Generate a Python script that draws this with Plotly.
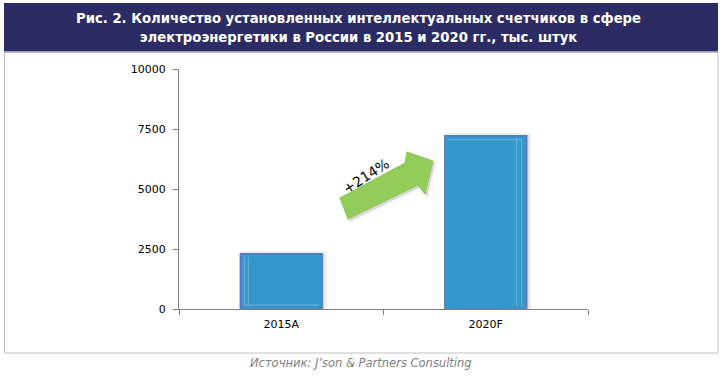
import plotly.graph_objects as go

categories = ["2015A", "2020F"]
values = [2300, 7220]
y_ticks = [0, 2500, 5000, 7500, 10000]
title_lines = ["Рис. 2. Количество установленных интеллектуальных счетчиков в сфере",
               "электроэнергетики в России в 2015 и 2020 гг., тыс. штук"]
growth_label = "+214%"
source_text = "Источник: J’son & Partners Consulting"

# plot area in pixels: x 179..588, y 69..309
L, R, T, B = 179, 588, 69, 309
W, H = 724, 381
def px(x):
    return (x - L) / (R - L)
def py(y):
    return (B - y) / (B - T)

BAR_W = 0.40
cat_px = (R - L) / 2.0          # pixels per category
val_px = 10000 / (B - T)        # data units per pixel

fig = go.Figure()
# soft shadow
fig.add_trace(go.Bar(
    x=categories, y=values, width=BAR_W, offset=-BAR_W / 2 + 2 / cat_px,
    marker=dict(color="rgba(0,0,0,0.10)", line=dict(color="rgba(0,0,0,0.07)", width=5)),
    hoverinfo="skip",
))
fig.add_trace(go.Bar(
    x=categories, y=values, width=BAR_W, offset=-BAR_W / 2,
    marker=dict(color="#3399cc", line=dict(color="#5a78c0", width=1.5)),
    hoverinfo="x+y",
))

shapes = []
# title box
shapes.append(dict(type="rect", xref="paper", yref="paper",
                   x0=px(4), x1=px(718), y0=py(52), y1=py(3),
                   fillcolor="#2b2c63", line=dict(width=0), layer="below"))
shapes.append(dict(type="line", xref="paper", yref="paper",
                   x0=px(4), x1=px(718), y0=py(52), y1=py(52),
                   line=dict(color="#a8a8c8", width=1.5)))
# chart border
shapes.append(dict(type="rect", xref="paper", yref="paper",
                   x0=px(4.5), x1=px(718), y0=py(353), y1=py(52),
                   line=dict(color="#c0c0c0", width=1), layer="below"))

# bar highlight lines (3D bevel look)
hl = dict(color="#6cb2de", width=1)
v0 = values[0]
for d in (4, 8):
    xx = 0 - BAR_W / 2 + d / cat_px
    shapes.append(dict(type="line", xref="x", yref="y", x0=xx, x1=xx,
                       y0=3 * val_px, y1=v0 - 3 * val_px, line=hl))
shapes.append(dict(type="line", xref="x", yref="y",
                   x0=0 - BAR_W / 2 + 4 / cat_px, x1=0 + BAR_W / 2 - 3 / cat_px,
                   y0=4 * val_px, y1=4 * val_px, line=hl))
v1 = values[1]
for d in (5, 10):
    xx = 1 + BAR_W / 2 - d / cat_px
    shapes.append(dict(type="line", xref="x", yref="y", x0=xx, x1=xx,
                       y0=3 * val_px, y1=v1 - 3 * val_px, line=hl))
shapes.append(dict(type="line", xref="x", yref="y",
                   x0=1 - BAR_W / 2 + 3 / cat_px, x1=1 + BAR_W / 2 - 5 / cat_px,
                   y0=v1 - 4 * val_px, y1=v1 - 4 * val_px, line=hl))

# growth arrow (shadow + arrow)
pts = [(340, 198), (405, 163), (407, 152), (433, 161), (425, 194), (418, 185), (348, 219)]
spath = "M " + " L ".join(f"{px(x + 2):.4f},{py(y + 2):.4f}" for x, y in pts) + " Z"
shapes.append(dict(type="path", xref="paper", yref="paper", path=spath,
                   fillcolor="rgba(0,0,0,0.12)", line=dict(color="rgba(0,0,0,0.06)", width=3)))
path = "M " + " L ".join(f"{px(x):.4f},{py(y):.4f}" for x, y in pts) + " Z"
shapes.append(dict(type="path", xref="paper", yref="paper", path=path,
                   fillcolor="#92cd5a", line=dict(color="#8cc555", width=1)))

annotations = [
    dict(text="<b>" + title_lines[0] + "<br>" + title_lines[1] + "</b>",
         xref="paper", yref="paper", x=px(358), y=py(27), showarrow=False,
         font=dict(family="Liberation Sans Narrow, DejaVu Sans Condensed, Arial Narrow, sans-serif",
                   size=14.7, color="white"),
         align="center", xanchor="center", yanchor="middle"),
    dict(text=growth_label, xref="paper", yref="paper", x=px(366), y=py(176),
         showarrow=False, textangle=-33,
         font=dict(family="DejaVu Sans, sans-serif", size=14, color="black"),
         xanchor="center", yanchor="middle"),
    dict(text="<i>" + source_text + "</i>", xref="paper", yref="paper",
         x=px(361), y=py(363), showarrow=False,
         font=dict(family="DejaVu Sans, sans-serif", size=11.5, color="#808080"),
         xanchor="center", yanchor="middle"),
]

fig.update_layout(
    width=W, height=H,
    margin=dict(l=L, r=W - R, t=T, b=H - B),
    paper_bgcolor="white", plot_bgcolor="white",
    showlegend=False, barmode="overlay",
    shapes=shapes, annotations=annotations,
    font=dict(family="DejaVu Sans, sans-serif", size=11, color="black"),
    xaxis=dict(type="category", range=[-0.5, 1.5], showline=True, linecolor="#808080",
               linewidth=1, ticks="outside", tickson="boundaries", ticklen=5,
               tickcolor="#808080", showgrid=False, zeroline=False,
               ticklabelstandoff=5, tickfont=dict(size=11)),
    yaxis=dict(range=[0, 10000], tickvals=y_ticks, ticktext=[str(v) for v in y_ticks],
               showline=True, linecolor="#808080", linewidth=1, ticks="outside",
               ticklen=5, tickcolor="#808080", showgrid=False, zeroline=False,
               ticklabelstandoff=5, tickfont=dict(size=11)),
)

fig.write_html("out.html", config={"displayModeBar": False},
               post_script="document.body.style.margin='0';document.body.style.padding='0';")
